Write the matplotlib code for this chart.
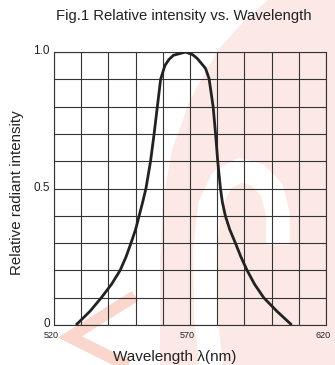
import matplotlib
matplotlib.use("Agg")
import matplotlib.pyplot as plt
from matplotlib.patches import Polygon
import numpy as np

plt.rcParams['font.family'] = ['Liberation Sans', 'DejaVu Sans']

# Data
wavelength = [528.1, 533.2, 537.4, 541.2, 544.3, 546.5, 548.3, 550.0, 551.3, 552.6,
              553.8, 555.5, 556.8, 558.0, 559.2, 560.8, 562.3, 563.9, 568.4,
              571.0, 572.7, 575.7, 577.0, 578.5, 579.4, 580.2, 581.2, 581.9,
              583.0, 584.6, 586.7, 588.7, 591.0, 593.7, 597.1, 602.0, 607.4]
intensity = [0.0, 0.05, 0.1, 0.15, 0.2, 0.25, 0.3, 0.35, 0.4, 0.45,
             0.5, 0.6, 0.7, 0.8, 0.9, 0.951, 0.973, 0.988, 1.0,
             0.99, 0.976, 0.94, 0.903, 0.8, 0.7, 0.6, 0.5, 0.45,
             0.4, 0.35, 0.3, 0.25, 0.2, 0.15, 0.1, 0.05, 0.0]
x_ticks = [520, 570, 620]
x_ticklabels = ['520', '570', '620']
y_ticks = [0, 0.5, 1.0]
y_ticklabels = ['0', '0.5', '1.0']

W, H = 335, 365
fig = plt.figure(figsize=(W / 100, H / 100), dpi=100)

# Background watermark (decorative), in figure pixel coords
wm = fig.add_axes([0, 0, 1, 1], zorder=0)
wm.set_xlim(0, W); wm.set_ylim(H, 0); wm.axis('off')
light = [(268, 0), (335, 0), (335, 365), (160, 365), (160, 260), (163, 200),
         (172, 150), (190, 100), (218, 50), (245, 20)]
wm.add_patch(Polygon(light, closed=True, fc='#fce8e4', ec='none'))
# white letter stroke inside the pink mark
wm.plot([212, 206, 205, 210, 222, 240, 258, 272, 278, 278],
        [370, 320, 250, 205, 180, 170, 175, 190, 215, 245],
        color='white', linewidth=17, solid_capstyle='butt', solid_joinstyle='round')
# salmon chevron bottom-left
wm.plot([135, 70, 140], [296, 337, 372], color='#fbd6cd', linewidth=8.5,
        solid_capstyle='butt', solid_joinstyle='miter')

ax = fig.add_axes([54 / W, 1 - 325 / H, (326 - 54) / W, (325 - 52) / H], zorder=1)
ax.patch.set_alpha(0)
ax.set_xlim(520, 620)
ax.set_ylim(0, 1.0)
ax.set_xticks(np.arange(520, 621, 10))
ax.set_yticks(np.arange(0, 1.01, 0.1))
ax.grid(True, color='#333333', linewidth=0.8)
ax.tick_params(length=0)
ax.set_xticklabels([])
ax.set_yticklabels([])
for s in ax.spines.values():
    s.set_color('#333333'); s.set_linewidth(0.8)

ax.plot(wavelength, intensity, color='#222222', linewidth=2.0, solid_capstyle='butt',
        solid_joinstyle='round', zorder=3)

for t, lab in zip(x_ticks, x_ticklabels):
    ax.annotate(lab, (t, 0), xytext=(-2, -7.5), textcoords='offset points',
                ha='center', va='center', fontsize=6.5, color='#222222')
for t, lab in zip(y_ticks, y_ticklabels):
    ax.annotate(lab, (520, t), xytext=(-3, 0.5), textcoords='offset points',
                ha='right', va='center', fontsize=8.5, color='#222222')

fig.text(184 / W, 1 - 16 / H, 'Fig.1 Relative intensity vs. Wavelength', ha='center', va='center',
         fontsize=10.7, color='#222222')
fig.text(175 / W, 1 - 357 / H, 'Wavelength λ(nm)', ha='center', va='center', fontsize=11, color='#222222')
fig.text(17 / W, 1 - 193 / H, 'Relative radiant intensity', ha='center', va='center', rotation=90,
         fontsize=10.9, color='#222222')

fig.savefig('out.png', dpi=100)
